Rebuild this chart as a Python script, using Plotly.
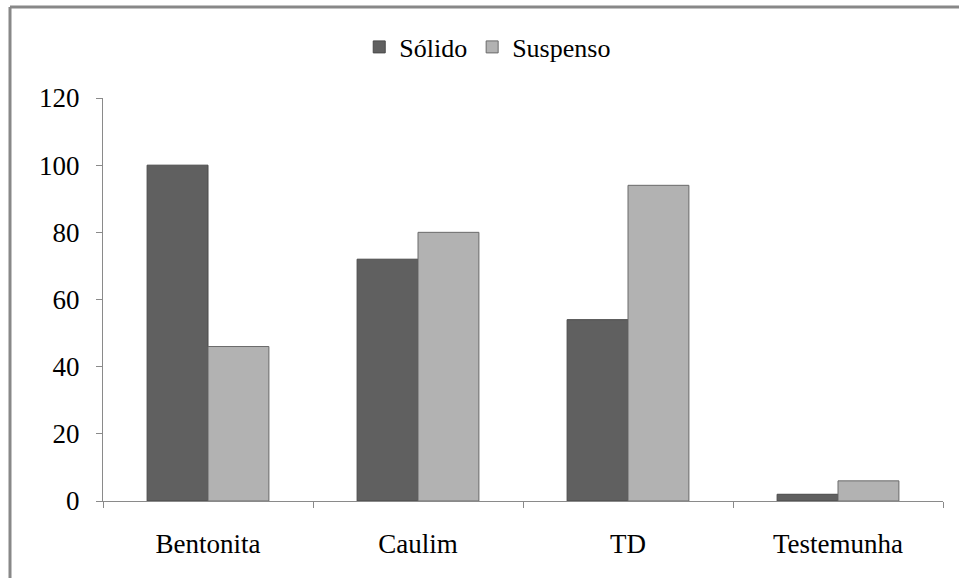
import plotly.graph_objects as go

categories = ["Bentonita", "Caulim", "TD", "Testemunha"]
solido = [100, 72, 54, 2]
suspenso = [46, 80, 94, 6]
series_names = ["Sólido", "Suspenso"]
y_ticks = [0, 20, 40, 60, 80, 100, 120]

FONT = "Liberation Serif"

fig = go.Figure()
fig.add_trace(go.Bar(x=categories, y=solido, name=series_names[0],
                     marker=dict(color="#606060", line=dict(color="#4a4a4a", width=1))))
fig.add_trace(go.Bar(x=categories, y=suspenso, name=series_names[1],
                     marker=dict(color="#b2b2b2", line=dict(color="#6a6a6a", width=1))))

L, R, T, B = 103, 16, 98, 77
W, H = 959, 578
pw = W - L - R
ph = H - T - B

fig.update_layout(
    width=W, height=H,
    margin=dict(l=L, r=R, t=T, b=B, pad=0),
    paper_bgcolor="white", plot_bgcolor="white",
    barmode="group", bargap=0.42, bargroupgap=0,
    font=dict(family=FONT, size=26, color="black"),
    legend=dict(orientation="h", x=0.458, xanchor="center", y=1 + (98 - 47) / ph,
                yanchor="middle", font=dict(family=FONT, size=26), itemwidth=30,
                tracegroupgap=0, bgcolor="rgba(0,0,0,0)"),
    showlegend=True,
    xaxis=dict(showline=True, linecolor="#8a8a8a", linewidth=1,
               ticks="outside", ticklen=6, tickcolor="#8a8a8a",
               showgrid=False, zeroline=False,
               tickson="boundaries", ticklabelstandoff=19,
               tickfont=dict(family=FONT, size=27)),
    yaxis=dict(range=[0, 120], tickvals=y_ticks, showline=True,
               linecolor="#8a8a8a", linewidth=1, ticks="outside", ticklen=6,
               tickcolor="#8a8a8a", showgrid=False, zeroline=False,
               ticklabelstandoff=11, tickfont=dict(family=FONT, size=27)),
)

# outer chart border (top and left)
fig.add_shape(type="line", xref="paper", yref="paper",
              x0=(10 - L) / pw, x1=(W + 5 - L) / pw,
              y0=1 + (T - 7) / ph, y1=1 + (T - 7) / ph,
              line=dict(color="#888888", width=3))
fig.add_shape(type="line", xref="paper", yref="paper",
              x0=(10 - L) / pw, x1=(10 - L) / pw,
              y0=1 + (T - 7) / ph, y1=-(B + 5) / ph,
              line=dict(color="#888888", width=3))

fig.write_html("out.html", config={"displayModeBar": False},
               post_script="document.body.style.margin='0';document.body.style.overflow='hidden';")
